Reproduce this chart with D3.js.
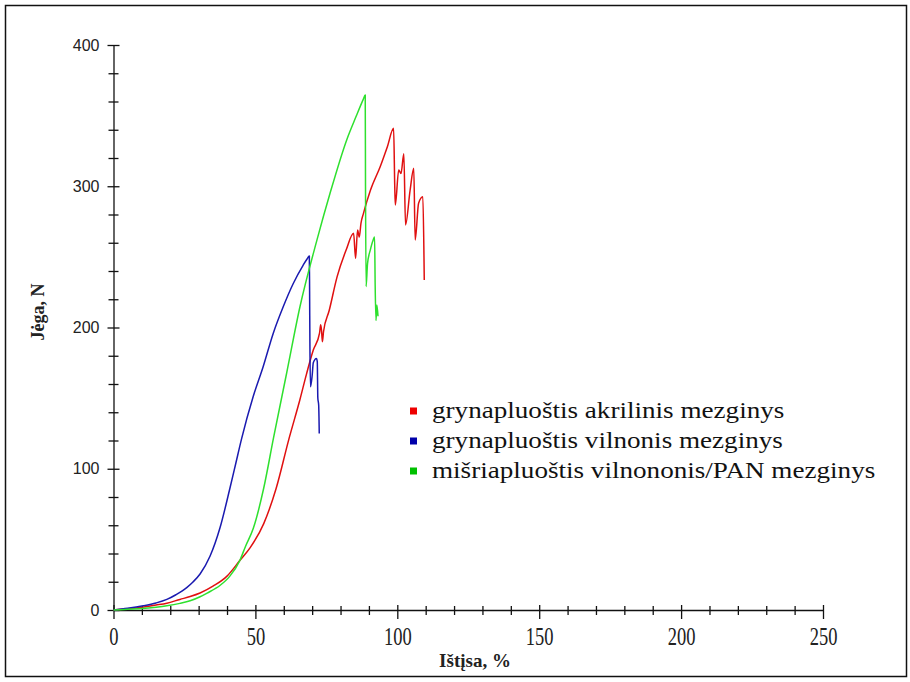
<!DOCTYPE html>
<html><head><meta charset="utf-8">
<script src="https://cdn.jsdelivr.net/npm/d3@7/dist/d3.min.js"></script>
<style>body{margin:0;background:#fff;}svg{display:block;}</style>
</head><body>
<script>
// ---- data ----
const seriesNames = ["grynapluoštis akrilinis mezginys","grynapluoštis vilnonis mezginys","mišriapluoštis vilnononis/PAN mezginys"];
const seriesColors = ["#e01010","#1a1ab0","#2ee02e"];
const legendColors = ["#ee0000","#0000aa","#00c000"];

const redX = [0,5,10,15,18.8,23.4,27,30.5,35.2,40,44.5,48.1,52.9,57.3,61.8,65.7,68,70.4,72.6,73,73.3,73.6,74,76,78.8,82,84.6,85.3,86,86.6,87.2,88.1,90.5,94,96.5,98.7,99.1,99.3,100.5,101.3,102.3,102.9,104.5,105.8,106.3,107.5,109,109.4,109.5];
const redY = [0,0.8,2,3.5,4.8,7.5,9.5,12,17,24,35,44,61,86,121,149,167,184,196,202,198,190,197,212,236,255,266.7,249,269,264,273.8,281,297,314,328,341,300,286.7,311.5,309,323,272.6,297,312.7,262,288,292.6,250,233.6];

const blueX = [0,5,10.5,15,18.8,22,25.8,28,30.5,34,37.5,41,43,45.1,49.2,52.7,56.3,59.8,63.3,66.8,68.2,69,69.1,69.2,69.4,70,70.4,71.5,71.8,72,72.3,72.5];
const blueY = [0,1.2,3,5,7.5,10.8,15.8,19.8,25.5,38,58,86,103,121,151,172,196,214.7,231,244,248.5,250.6,226,190,158,166,175,178,176,150,145,125];

const greenX = [0,5,10,15,18.8,23.4,27,30.5,33,37.6,41,44.5,46.5,49.3,52.9,56.4,61,65.7,71.7,76.3,82.2,85.5,88,88.7,88.8,89,89.5,90.5,91.5,92,92.2,92.5,92.8,93.2];
const greenY = [0,0.5,1,2,3,4.7,6.5,9.4,12,17.5,24,35,45,58,86,122,167.6,214.7,262,295,333,349.5,361.5,364.6,300,229,245,255,262,264,230,205,216,208];

const xTicks = [0,50,100,150,200,250];
const yTicks = [0,100,200,300,400];
const xLabel = "Ištįsa, %";
const yLabel = "Jėga, N";

// ---- drawing ----
const W = 910, H = 682;
const svg = d3.select("body").append("svg").attr("width", W).attr("height", H);
svg.append("rect").attr("x",0).attr("y",0).attr("width",W).attr("height",H).attr("fill","#fff");
svg.append("rect").attr("x",5.5).attr("y",5.5).attr("width",901).attr("height",671)
  .attr("fill","none").attr("stroke","#111").attr("stroke-width",1.5);

const x = d3.scaleLinear().domain([0,250]).range([113.5,823]);
const y = d3.scaleLinear().domain([0,400]).range([610,45]);

// Y axis
const yAxis = d3.axisLeft(y).tickValues(d3.range(0,401,20)).tickSizeOuter(0)
  .tickFormat(d => yTicks.includes(d) ? d : "");
const gy = svg.append("g").attr("transform",`translate(${x(0)},0)`).call(yAxis);
gy.select(".domain").attr("stroke","#111").attr("stroke-width",1.3);
gy.selectAll(".tick line").attr("stroke","#111").attr("stroke-width",1.3)
  .attr("x1", d => yTicks.includes(d) ? 6 : 5).attr("x2", d => yTicks.includes(d) ? -6 : -5);
gy.selectAll(".tick text").attr("x",-14).attr("font-family","'Liberation Sans', Arial, sans-serif")
  .attr("font-size",16).attr("fill","#222");

// X axis
const xAxis = d3.axisBottom(x).tickValues(d3.range(0,251,10)).tickSizeOuter(0)
  .tickFormat(d => xTicks.includes(d) ? d : "");
const gx = svg.append("g").attr("transform",`translate(0,${y(0)})`).call(xAxis);
gx.select(".domain").attr("stroke","#111").attr("stroke-width",1.3);
gx.selectAll(".tick line").attr("stroke","#111").attr("stroke-width",1.3)
  .attr("y1", d => xTicks.includes(d) ? -5 : -4).attr("y2", d => xTicks.includes(d) ? 9 : 5);
gx.selectAll(".tick text").attr("y",17).attr("transform","scale(0.74,1)")
  .attr("font-family","'Liberation Serif', 'Times New Roman', serif")
  .attr("font-size",25).attr("fill","#222");

// Lines
const data = [
  redX.map((v,i)=>[v,redY[i]]),
  blueX.map((v,i)=>[v,blueY[i]]),
  greenX.map((v,i)=>[v,greenY[i]])
];
const line = d3.line().x(d=>x(d[0])).y(d=>y(d[1])).curve(d3.curveMonotoneX);
[0,1,2].forEach(i=>{
  svg.append("path").datum(data[i]).attr("d",line).attr("fill","none")
    .attr("stroke",seriesColors[i]).attr("stroke-width",1.5).attr("stroke-linejoin","round");
});

// Axis titles
svg.append("text").attr("transform",`translate(44,312) rotate(-90)`).attr("text-anchor","middle")
  .attr("font-family","'Liberation Serif', 'Times New Roman', serif").attr("font-weight","bold")
  .attr("font-size",18).attr("fill","#222").text(yLabel);
svg.append("text").attr("x",475).attr("y",667).attr("text-anchor","middle")
  .attr("font-family","'Liberation Serif', 'Times New Roman', serif").attr("font-weight","bold")
  .attr("font-size",19).attr("fill","#222").text(xLabel);

// Legend
const lg = svg.append("g");
seriesNames.forEach((n,i)=>{
  const cy = 411 + i*30;
  lg.append("rect").attr("x",410).attr("y",cy-3.5).attr("width",7).attr("height",7).attr("fill",legendColors[i]);
  lg.append("text").attr("transform",`translate(432,${cy}) scale(1.13,1)`).attr("dy","0.3em")
    .attr("font-family","'Liberation Serif', 'Times New Roman', serif").attr("font-size",24)
    .attr("fill","#111").text(n);
});
</script>
</body></html>
